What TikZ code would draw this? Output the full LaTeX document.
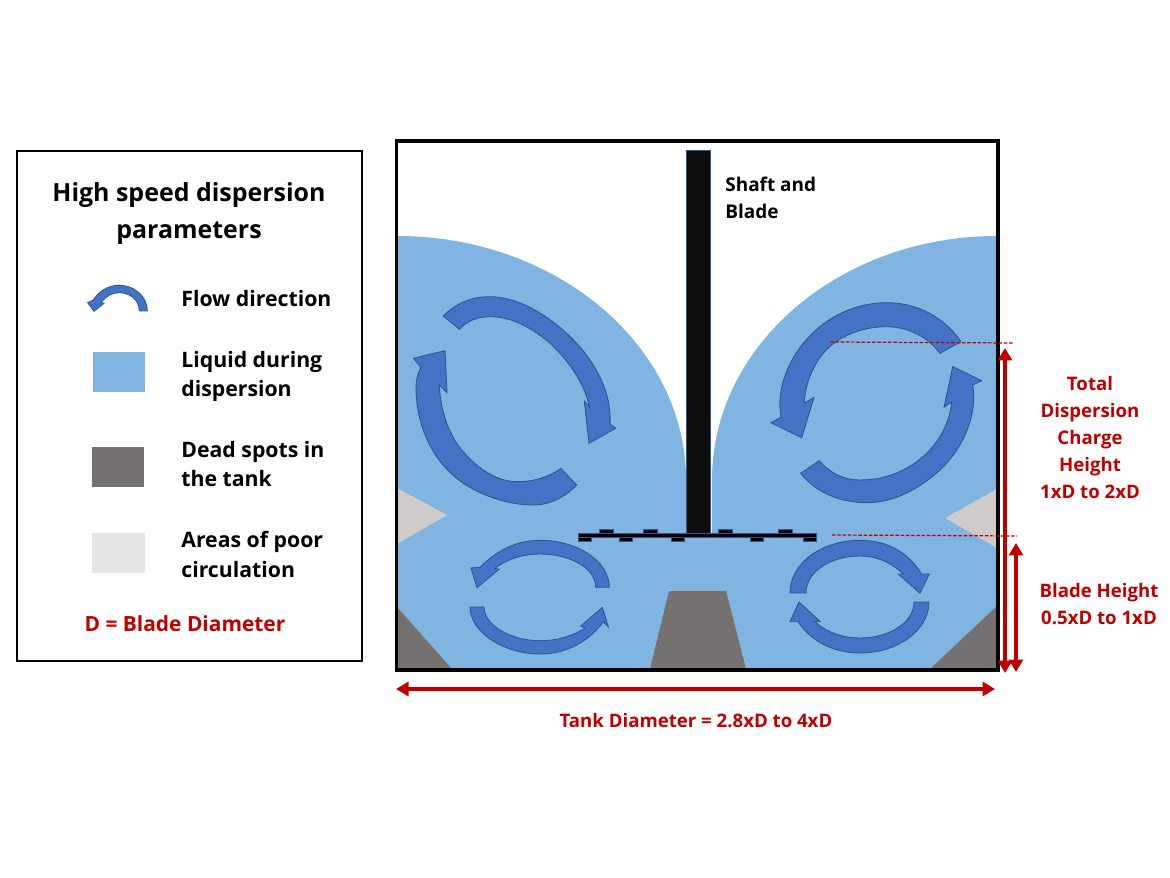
\documentclass[tikz,border=0pt]{standalone}
\usepackage{fontspec}
\usepackage{xcolor}
\setmainfont{Open Sans}
\usetikzlibrary{arrows.meta}
\definecolor{liquidblue}{HTML}{7FB5E0}
\definecolor{flowblue}{HTML}{4472C4}
\definecolor{flowedge}{HTML}{2F5597}
\definecolor{deadgray}{HTML}{767171}
\definecolor{poorgray}{HTML}{CFCBCB}
\definecolor{poorlegend}{HTML}{E7E6E6}
\definecolor{dimred}{HTML}{C00000}
\newcommand{\labelfont}[2]{\fontsize{#1}{#2}\selectfont\bfseries}
\tikzset{
  flowarrow/.style={fill=flowblue, draw=flowedge, line width=0.5pt, line join=miter},
  bladepart/.style={fill=black, draw=flowedge, line width=0.3pt},
  legendtext/.style={anchor=west, align=left, inner sep=0pt, font=\labelfont{12.1pt}{17pt}, text=black},
  dimtext/.style={align=center, inner sep=0pt, text=dimred, font=\labelfont{10.6pt}{15.4pt}},
  dimarrow/.style={draw=dimred, line width=1.9pt, {Triangle[length=0.25cm,width=0.28cm]}-{Triangle[length=0.25cm,width=0.28cm]}},
  dimguide/.style={draw=dimred, line width=0.7pt, dash pattern=on 2pt off 1pt}
}

\begin{document}
\begin{tikzpicture}[x=0.02cm, y=-0.02cm]
  \useasboundingbox (0,0) rectangle (1170,878);
  \fill[white] (0,0) rectangle (1170,878);

  % tank contents
  \fill[liquidblue] (397,236) .. controls (556,236) and (686,345) .. (686,480) -- (686,536)
    -- (712,536) -- (712,480) .. controls (712,345) and (840,236) .. (997,236)
    -- (997,670) -- (397,670) -- cycle;
  \fill[poorgray] (397,488) -- (447,515) -- (397,544) -- cycle;
  \fill[poorgray] (945,518) -- (997,489) -- (997,548) -- cycle;
  \fill[deadgray] (397,607) -- (452,669) -- (397,669) -- cycle;
  \fill[deadgray] (997,606) -- (930,669) -- (997,669) -- cycle;
  \fill[deadgray] (669,591) -- (726,591) -- (746,669) -- (650,669) -- cycle;

  % big flow arrows
  \draw[flowarrow] (443.3,316) .. controls (456,303) and (472,296.7) .. (490,296.7)
    .. controls (520,296.7) and (553,318) .. (576.7,343.3)
    .. controls (597,365) and (612,395) .. (610,424)
    -- (615.7,428.3) -- (589,443.3) -- (584.3,401) -- (589.3,406.7)
    .. controls (585,385) and (570,362) .. (550,343.3)
    .. controls (530,326) and (510,316.7) .. (490,316.7)
    .. controls (477,316.7) and (467,321) .. (459.3,329.3) -- cycle;
  \draw[flowarrow] (576.7,485) .. controls (565,497) and (550,505) .. (533.3,505)
    .. controls (510,505) and (484,497) .. (463.3,483.3)
    .. controls (432,462) and (416,425) .. (416,386.7)
    .. controls (416,380) and (418,373) .. (421,367.3)
    -- (413.3,358.3) -- (445,350.7) -- (447,392.7) -- (439.3,385)
    .. controls (440,405) and (446,427) .. (456.7,443.3)
    .. controls (472,465) and (495,481.7) .. (516.7,481.7)
    .. controls (532,481.7) and (548,478) .. (560.7,468.3) -- cycle;
  \draw[flowarrow] (961,341.7) .. controls (945,318) and (918,302.7) .. (886.7,302.7)
    .. controls (852,302.7) and (822,320) .. (803.3,343.3)
    .. controls (788,362) and (776,390) .. (781,417.3)
    -- (771,422.7) -- (801.7,437.7) -- (814,397.3) -- (804.3,403.3)
    .. controls (805,385) and (812,367) .. (823.3,353.3)
    .. controls (838,336) and (862,326.7) .. (886.7,326.7)
    .. controls (908,326.7) and (928,337) .. (940,353.3) -- cycle;
  \draw[flowarrow] (800.7,473.3) .. controls (815,492) and (840,502.7) .. (866.7,502.7)
    .. controls (895,502.7) and (920,488) .. (940,470)
    .. controls (962,450) and (978,415) .. (972.7,385)
    -- (981.7,380.7) -- (952.7,366.7) -- (944,407.3) -- (951.7,401.7)
    .. controls (950,420) and (942,438) .. (926.7,453.3)
    .. controls (908,471) and (885,480) .. (860,480)
    .. controls (843,480) and (830,473) .. (819.3,460.7) -- cycle;

  % small flow arrows
  \draw[flowarrow] (609.3,587.3) .. controls (609.3,561.5) and (578,540.3) .. (540,540.3)
    .. controls (515,540.3) and (495,552) .. (480,567.3) -- (471,568) -- (477,587.7) -- (499,569.3) -- (495,568.3)
    .. controls (507,559) and (523,554) .. (540,554) .. controls (570,554) and (595.7,568) .. (595.7,587.3) -- cycle;
  \draw[flowarrow] (470,607) .. controls (470,633) and (505,654) .. (540,654)
    .. controls (568,654) and (590,640) .. (603.3,621.7) -- (608.3,626.7) -- (602.3,607.3) -- (580.7,626) -- (585,628.3)
    .. controls (572,636) and (558,640.7) .. (540,640.7) .. controls (510,640.7) and (484,625) .. (484,607) -- cycle;
  \draw[flowarrow] (790,593) .. controls (790,563) and (822,540.3) .. (860,540.3)
    .. controls (887,540.3) and (908,552) .. (921.7,574) -- (929.3,574) -- (920,593.3) -- (898.3,574) -- (903.3,574)
    .. controls (892,563) and (877,556) .. (860,556) .. controls (830,556) and (806,572) .. (806,593) -- cycle;
  \draw[flowarrow] (929,602) .. controls (929,630) and (898,653) .. (860,653)
    .. controls (832,653) and (810,640) .. (798,621.7) -- (790,621.7) -- (799,602) -- (820,621.3) -- (815,621.7)
    .. controls (826,632) and (842,638) .. (860,638) .. controls (890,638) and (914,622) .. (914,602) -- cycle;

  % shaft and blade
  \draw[fill=black!95, draw=flowedge, line width=0.4pt] (686,150) rectangle (710,533);
  \draw[bladepart] (578,533) rectangle (816,537.5);
  \foreach \xa in {599,643,718,778}
    \draw[bladepart] (\xa,529) rectangle ++(14,4);
  \foreach \xb in {578,619,671,750,803}
    \draw[bladepart] (\xb,537) rectangle ++(13.5,4);

  % tank wall
  \draw[black, line width=1.9pt] (396.5,141) rectangle (998,670);

  % guides and dimension arrows
  \coordinate (chargetop) at (830,342);
  \coordinate (chargetopend) at (1014,343);
  \coordinate (bladeline) at (832,535);
  \coordinate (bladelineend) at (1017,536);
  \draw[dimguide] (chargetop) -- (chargetopend);
  \draw[dimguide] (bladeline) -- (bladelineend);
  \coordinate (totaltop) at (1005,348);
  \coordinate (totalbot) at (1005,673);
  \coordinate (heighttop) at (1016,543);
  \coordinate (heightbot) at (1016,672);
  \coordinate (tankleft) at (396,689);
  \coordinate (tankright) at (995,689);
  \draw[dimarrow] (totaltop) -- (totalbot);
  \draw[dimarrow] (heighttop) -- (heightbot);
  \draw[dimarrow] (tankleft) -- (tankright);

  \node[align=left, anchor=west, inner sep=0pt, font=\labelfont{10.8pt}{15.4pt}, text=black] (shafttext) at (725,197.5) {Shaft and\\Blade};
  \node[dimtext] (totaltext) at (1090,437.5) {Total\\Dispersion\\Charge\\Height\\1xD to 2xD};
  \node[dimtext] (heighttext) at (1099,604) {Blade Height\\0.5xD to 1xD};
  \node[dimtext] (tanktext) at (696,720.5) {Tank Diameter = 2.8xD to 4xD};

  % legend
  \draw[black, line width=1.2pt] (17,151) rectangle (362,661);
  \node[align=center, inner sep=0pt, font=\labelfont{14.2pt}{21pt}, text=black] (legendtitle) at (189,213.5) {High speed dispersion\\parameters};
  \draw[flowarrow] (147.3,311) .. controls (147.3,296) and (134,285.3) .. (119.3,285.3)
    .. controls (108,285.3) and (99,291) .. (93.3,300) -- (87.7,302.7) -- (94,311.3) -- (104,303.3) -- (101,302.7)
    .. controls (106,296) and (112,292.7) .. (119.3,292.7) .. controls (130,292.7) and (139.3,300) .. (139.3,311) -- cycle;
  \node[legendtext] (flowtext) at (181,299) {Flow direction};
  \fill[liquidblue] (93,352) rectangle (145,392);
  \node[legendtext] (liquidtext) at (181,376.5) {Liquid during\\dispersion};
  \fill[deadgray] (92,447) rectangle (144,487);
  \node[legendtext] (deadtext) at (181,464) {Dead spots in\\the tank};
  \fill[poorlegend] (92,533) rectangle (145,573);
  \node[legendtext] (poortext) at (181,554.5) {Areas of poor\\circulation};
  \node[dimtext, font=\labelfont{11.9pt}{17pt}] (bladediam) at (185,624) {D = Blade Diameter};
\end{tikzpicture}
\end{document}
